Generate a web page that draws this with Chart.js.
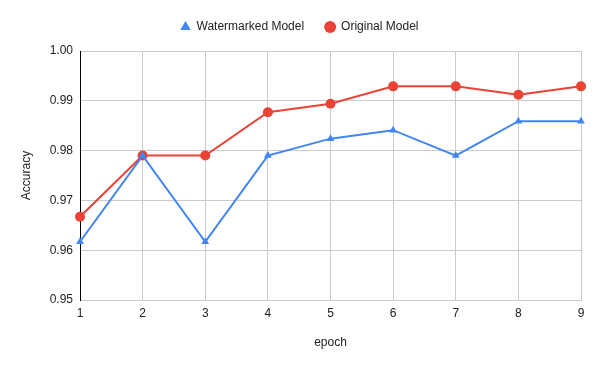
<!DOCTYPE html>
<html>
<head>
<meta charset="utf-8">
<script src="https://cdn.jsdelivr.net/npm/chart.js@4/dist/chart.umd.min.js"></script>
<style>
  html, body { margin: 0; padding: 0; background: #fff; }
  #wrap { width: 600px; height: 371px; position: relative; }
</style>
</head>
<body>
<div id="wrap"><canvas id="accChart"></canvas></div>
<script>
const epochs = ['1', '2', '3', '4', '5', '6', '7', '8', '9'];
const watermarked = [0.9617, 0.979, 0.9617, 0.979, 0.9824, 0.9841, 0.979, 0.9859, 0.9859];
const original = [0.9667, 0.979, 0.979, 0.9877, 0.9894, 0.9929, 0.9929, 0.9912, 0.9929];
const yTickMin = 0.95;
const yTickMax = 1.00;
const yTickStep = 0.01;

document.addEventListener('DOMContentLoaded', function () {
  // legend takes a fixed block at the top so the plot starts at y=51,
  // and is nudged right so it centres on the whole canvas
  const legendBox = {
    id: 'legendBox',
    beforeInit(chart) {
      const fit = chart.legend.fit;
      chart.legend.fit = function () {
        fit.bind(chart.legend)();
        this.height = 51;
      };
    },
    afterLayout(chart) {
      chart.legend.left += 9;
      chart.legend.right += 9;
    }
  };

  const font = 'Liberation Sans, Arial, sans-serif';
  const ctx = document.getElementById('accChart').getContext('2d');
  new Chart(ctx, {
    type: 'line',
    data: {
      labels: epochs,
      datasets: [{
        label: 'Watermarked Model',
        data: watermarked,
        borderColor: '#4285F4',
        backgroundColor: '#4285F4',
        borderWidth: 2,
        pointStyle: 'triangle',
        pointRadius: 4.5,
        pointBorderWidth: 0,
        tension: 0
      }, {
        label: 'Original Model',
        data: original,
        borderColor: '#EA4335',
        backgroundColor: '#EA4335',
        borderWidth: 2,
        pointStyle: 'circle',
        pointRadius: 5,
        pointBorderWidth: 0,
        tension: 0
      }]
    },
    options: {
      responsive: true,
      maintainAspectRatio: false,
      animation: false,
      layout: { padding: { left: 0, right: 19, top: 0, bottom: 0 } },
      plugins: {
        legend: {
          position: 'top',
          labels: {
            usePointStyle: true,
            boxWidth: 10,
            boxHeight: 8.5,
            padding: 21,
            color: '#222',
            font: { family: font, size: 12 }
          }
        },
        tooltip: { enabled: false }
      },
      scales: {
        x: {
          offset: false,
          grid: { color: '#ccc', drawTicks: false },
          border: { color: '#ccc' },
          ticks: { color: '#222', padding: 6, font: { family: font, size: 12 }, maxRotation: 0 },
          title: { display: true, text: 'epoch', color: '#222', font: { family: font, size: 12 }, padding: { top: 0, bottom: 21 } },
          afterFit: s => { s.height = 71; }
        },
        y: {
          min: yTickMin,
          max: yTickMax,
          grid: { color: '#ccc', drawTicks: false },
          border: { color: '#000', width: 1 },
          ticks: {
            stepSize: yTickStep,
            color: '#222',
            padding: 7,
            font: { family: font, size: 12 },
            callback: v => v.toFixed(2)
          },
          title: { display: true, text: 'Accuracy', color: '#222', font: { family: font, size: 12 }, padding: { top: 19 } },
          afterFit: s => { s.width = 80; }
        }
      }
    },
    plugins: [legendBox]
  });
});
</script>
</body>
</html>
